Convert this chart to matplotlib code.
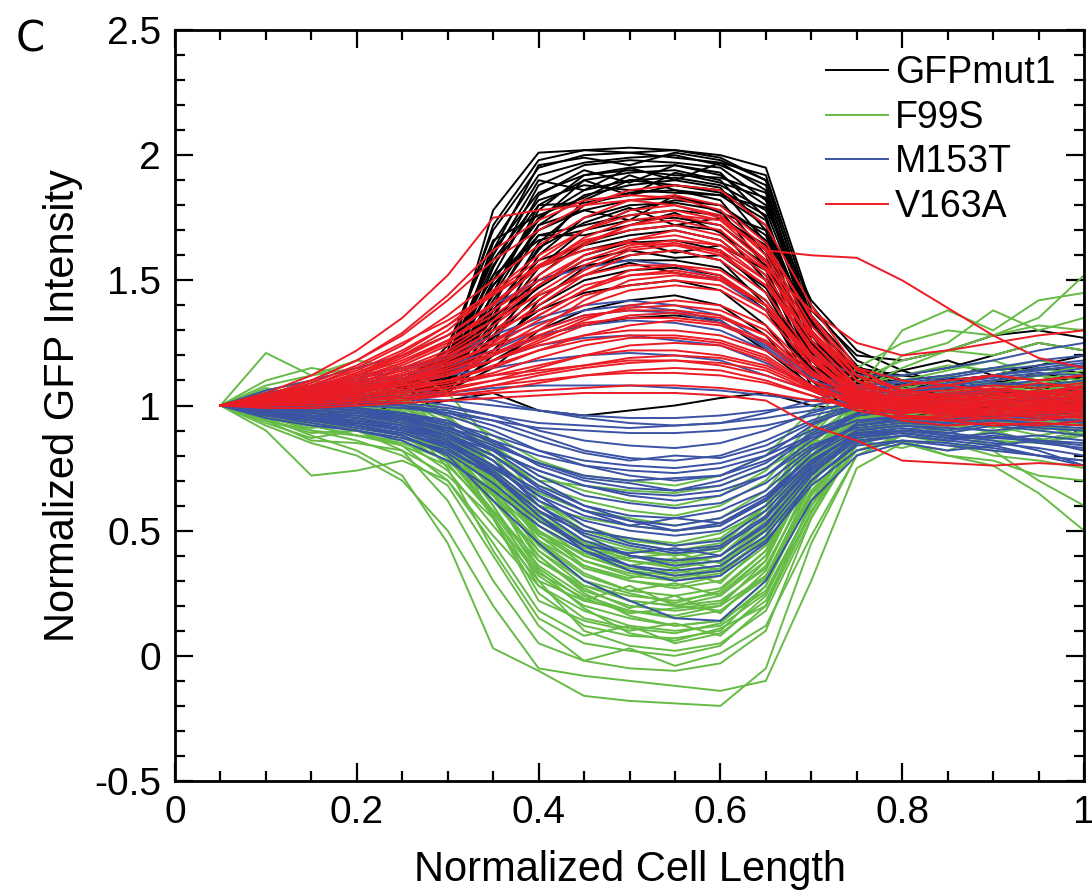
"""Normalized GFP intensity profiles along the cell length for four GFP variants."""

import matplotlib

matplotlib.use("Agg")
import matplotlib.pyplot as plt
from matplotlib.ticker import MultipleLocator

# positions along the cell (fraction of length), shared by every profile
cell_length = [0.05, 0.10, 0.15, 0.20, 0.25, 0.30, 0.35, 0.40, 0.45, 0.50,
               0.55, 0.60, 0.65, 0.70, 0.75, 0.80, 0.85, 0.90, 0.95, 1.00]

gfpmut1 = [
    [1.00, 1.02, 1.04, 1.05, 1.08, 1.15, 1.78, 2.01, 2.02, 2.03, 2.02, 2.00, 1.95, 1.40, 1.18, 1.10, 1.08, 1.05, 1.06, 1.04],
    [1.00, 1.01, 1.03, 1.06, 1.10, 1.22, 1.70, 1.95, 2.00, 2.01, 2.02, 1.99, 1.90, 1.35, 1.12, 1.05, 1.03, 1.02, 1.00, 1.01],
    [1.00, 0.99, 1.00, 1.02, 1.05, 1.12, 1.55, 1.88, 1.96, 1.98, 1.97, 1.95, 1.82, 1.30, 1.10, 1.08, 1.05, 1.09, 1.07, 1.10],
    [1.00, 1.03, 1.05, 1.04, 1.07, 1.18, 1.62, 1.85, 1.92, 1.95, 1.96, 1.93, 1.75, 1.25, 1.05, 1.00, 0.98, 1.00, 1.02, 0.99],
    [1.00, 0.98, 0.99, 1.00, 1.03, 1.10, 1.45, 1.80, 1.90, 1.93, 1.94, 1.90, 1.70, 1.20, 1.02, 0.98, 0.97, 0.99, 0.96, 0.98],
    [1.00, 1.02, 1.02, 1.03, 1.06, 1.14, 1.50, 1.75, 1.86, 1.90, 1.91, 1.88, 1.78, 1.32, 1.15, 1.12, 1.10, 1.12, 1.15, 1.13],
    [1.00, 1.01, 1.00, 0.99, 1.02, 1.08, 1.40, 1.72, 1.84, 1.88, 1.90, 1.87, 1.65, 1.18, 1.00, 0.96, 0.95, 0.97, 0.95, 0.96],
    [1.00, 1.04, 1.06, 1.08, 1.10, 1.20, 1.58, 1.82, 1.88, 1.86, 1.85, 1.84, 1.72, 1.28, 1.12, 1.08, 1.10, 1.12, 1.10, 1.11],
    [1.00, 1.00, 1.02, 1.01, 1.04, 1.12, 1.35, 1.65, 1.80, 1.85, 1.86, 1.82, 1.60, 1.15, 0.98, 0.95, 0.96, 0.94, 0.97, 0.95],
    [1.00, 1.02, 1.03, 1.05, 1.08, 1.16, 1.48, 1.70, 1.78, 1.82, 1.83, 1.80, 1.68, 1.22, 1.06, 1.03, 1.02, 1.04, 1.03, 1.05],
    [1.00, 0.99, 1.01, 1.02, 1.04, 1.10, 1.30, 1.60, 1.75, 1.80, 1.81, 1.78, 1.55, 1.12, 1.00, 0.97, 0.99, 1.00, 0.98, 1.00],
    [1.00, 1.01, 1.01, 1.03, 1.05, 1.13, 1.42, 1.68, 1.72, 1.76, 1.78, 1.76, 1.62, 1.20, 1.04, 1.02, 1.00, 1.01, 1.03, 1.02],
    [1.00, 1.03, 1.04, 1.06, 1.09, 1.18, 1.52, 1.66, 1.70, 1.74, 1.75, 1.72, 1.58, 1.25, 1.14, 1.10, 1.12, 1.15, 1.14, 1.16],
    [1.00, 1.00, 0.99, 1.00, 1.02, 1.06, 1.25, 1.52, 1.65, 1.70, 1.72, 1.70, 1.50, 1.10, 0.96, 0.93, 0.92, 0.94, 0.93, 0.95],
    [1.00, 1.02, 1.03, 1.04, 1.06, 1.12, 1.38, 1.58, 1.64, 1.68, 1.70, 1.66, 1.52, 1.16, 1.05, 1.04, 1.06, 1.05, 1.08, 1.07],
    [1.00, 1.01, 1.02, 1.02, 1.04, 1.09, 1.28, 1.48, 1.60, 1.65, 1.66, 1.62, 1.45, 1.14, 1.02, 1.00, 1.01, 0.99, 1.00, 1.02],
    [1.00, 0.98, 0.98, 0.99, 1.01, 1.05, 1.20, 1.42, 1.55, 1.60, 1.62, 1.58, 1.40, 1.08, 0.97, 0.95, 0.97, 0.96, 0.98, 0.97],
    [1.00, 1.02, 1.04, 1.05, 1.07, 1.14, 1.35, 1.50, 1.56, 1.58, 1.58, 1.55, 1.42, 1.18, 1.10, 1.12, 1.15, 1.20, 1.25, 1.22],
    [1.00, 1.01, 1.00, 1.01, 1.03, 1.08, 1.22, 1.40, 1.50, 1.54, 1.55, 1.52, 1.38, 1.12, 1.03, 1.01, 1.00, 1.03, 1.02, 1.04],
    [1.00, 1.00, 1.01, 1.03, 1.05, 1.10, 1.25, 1.38, 1.45, 1.48, 1.50, 1.46, 1.32, 1.10, 1.02, 1.00, 0.98, 1.00, 0.99, 1.00],
    [1.00, 0.99, 1.00, 1.00, 1.02, 1.06, 1.15, 1.30, 1.38, 1.42, 1.44, 1.40, 1.28, 1.06, 0.98, 0.96, 0.97, 0.99, 0.98, 0.99],
    [1.00, 1.01, 1.02, 1.03, 1.04, 1.08, 1.18, 1.28, 1.32, 1.35, 1.36, 1.34, 1.22, 1.08, 1.02, 1.05, 1.08, 1.10, 1.12, 1.10],
    [1.00, 0.98, 0.97, 0.98, 0.99, 1.02, 1.05, 0.98, 0.96, 0.98, 1.00, 1.03, 1.05, 1.00, 0.98, 0.96, 0.95, 0.97, 0.96, 0.98],
    [1.00, 1.02, 1.05, 1.08, 1.12, 1.18, 1.72, 1.98, 2.02, 2.01, 1.99, 1.97, 1.92, 1.38, 1.20, 1.18, 1.22, 1.28, 1.30, 1.27],
    [1.00, 1.01, 1.03, 1.04, 1.06, 1.12, 1.65, 1.92, 1.97, 1.99, 2.00, 1.96, 1.88, 1.30, 1.08, 1.04, 1.02, 1.05, 1.04, 1.06],
    [1.00, 1.00, 1.02, 1.03, 1.05, 1.10, 1.45, 1.78, 1.92, 1.94, 1.92, 1.91, 1.85, 1.26, 1.06, 1.02, 1.04, 1.03, 1.01, 1.03],
    [1.00, 1.02, 1.01, 1.02, 1.04, 1.09, 1.38, 1.62, 1.82, 1.90, 1.88, 1.86, 1.76, 1.24, 1.04, 1.00, 0.99, 1.01, 1.00, 0.98],
    [1.00, 0.99, 1.00, 1.01, 1.03, 1.07, 1.32, 1.55, 1.70, 1.78, 1.82, 1.80, 1.66, 1.18, 1.02, 0.99, 1.01, 1.00, 1.02, 1.01],
    [1.00, 1.03, 1.01, 1.06, 1.04, 1.16, 1.60, 1.90, 1.86, 1.95, 1.90, 1.97, 1.86, 1.33, 1.10, 1.14, 1.08, 1.12, 1.06, 1.09],
    [1.00, 0.97, 1.02, 1.00, 1.06, 1.20, 1.52, 1.84, 1.94, 1.89, 1.96, 1.92, 1.80, 1.36, 1.16, 1.06, 1.10, 1.04, 1.08, 1.02],
    [1.00, 1.05, 1.03, 1.07, 1.05, 1.24, 1.66, 1.76, 1.83, 1.92, 1.86, 1.84, 1.79, 1.42, 1.22, 1.14, 1.18, 1.12, 1.16, 1.20],
    [1.00, 1.00, 1.04, 1.02, 1.08, 1.14, 1.44, 1.72, 1.78, 1.74, 1.84, 1.77, 1.70, 1.28, 1.07, 1.01, 1.04, 0.98, 1.02, 1.00],
    [1.00, 1.02, 0.99, 1.03, 1.01, 1.11, 1.36, 1.63, 1.73, 1.79, 1.72, 1.75, 1.64, 1.21, 1.04, 0.99, 0.96, 1.00, 0.97, 1.01],
    [1.00, 0.99, 1.03, 1.05, 1.03, 1.17, 1.48, 1.68, 1.68, 1.72, 1.77, 1.69, 1.56, 1.26, 1.11, 1.07, 1.11, 1.08, 1.13, 1.10],
    [1.00, 1.04, 1.02, 1.04, 1.09, 1.13, 1.40, 1.56, 1.62, 1.66, 1.61, 1.64, 1.54, 1.19, 1.06, 1.03, 1.05, 1.09, 1.04, 1.07],
    [1.00, 1.01, 1.05, 1.03, 1.06, 1.19, 1.56, 1.80, 1.81, 1.84, 1.88, 1.85, 1.74, 1.30, 1.09, 1.05, 1.01, 1.05, 1.03, 1.06],
    [1.00, 0.98, 1.00, 1.02, 1.04, 1.11, 1.33, 1.47, 1.58, 1.62, 1.59, 1.60, 1.47, 1.16, 1.01, 0.98, 1.00, 0.97, 1.01, 0.99],
    [1.00, 1.03, 1.04, 1.01, 1.05, 1.15, 1.62, 1.96, 1.99, 1.96, 2.01, 1.98, 1.90, 1.34, 1.13, 1.09, 1.06, 1.10, 1.08, 1.12],
    [1.00, 1.01, 1.02, 1.04, 1.03, 1.09, 1.27, 1.44, 1.52, 1.57, 1.53, 1.50, 1.40, 1.13, 1.00, 0.97, 0.99, 1.02, 0.99, 1.03],
    [1.00, 1.02, 1.00, 1.03, 1.07, 1.12, 1.50, 1.74, 1.90, 1.84, 1.93, 1.89, 1.83, 1.29, 1.08, 1.03, 1.06, 1.02, 1.05, 1.04],
]

f99s = [
    [1.00, 0.95, 0.88, 0.82, 0.72, 0.45, 0.03, -0.06, -0.16, -0.18, -0.19, -0.20, -0.05, 0.45, 0.80, 0.88, 0.92, 0.95, 0.90, 0.93],
    [1.00, 0.92, 0.85, 0.80, 0.70, 0.50, 0.20, -0.05, -0.08, -0.10, -0.12, -0.14, -0.10, 0.30, 0.75, 0.85, 0.82, 0.88, 0.86, 0.90],
    [1.00, 0.98, 0.95, 0.90, 0.82, 0.62, 0.30, 0.05, -0.02, -0.05, -0.06, -0.03, 0.10, 0.55, 0.85, 0.92, 0.95, 0.98, 1.00, 0.97],
    [1.00, 1.05, 1.08, 1.02, 0.95, 0.75, 0.42, 0.15, 0.05, 0.02, 0.00, 0.04, 0.20, 0.62, 0.90, 1.00, 1.02, 1.05, 1.03, 1.06],
    [1.00, 1.10, 1.15, 1.12, 1.05, 0.88, 0.55, 0.25, 0.12, 0.08, 0.07, 0.10, 0.28, 0.70, 0.98, 1.05, 1.10, 1.08, 1.12, 1.10],
    [1.00, 1.21, 1.12, 1.15, 1.10, 0.95, 0.65, 0.35, 0.22, 0.18, 0.16, 0.20, 0.38, 0.78, 1.02, 1.08, 1.12, 1.15, 1.10, 1.14],
    [1.00, 0.90, 0.72, 0.74, 0.78, 0.70, 0.48, 0.28, 0.18, 0.12, 0.10, 0.12, 0.25, 0.60, 0.82, 0.88, 0.85, 0.80, 0.78, 0.75],
    [1.00, 0.97, 0.93, 0.96, 0.92, 0.80, 0.58, 0.38, 0.28, 0.24, 0.22, 0.25, 0.40, 0.72, 0.92, 0.98, 1.00, 0.97, 0.99, 1.01],
    [1.00, 1.03, 1.05, 1.08, 1.04, 0.92, 0.70, 0.48, 0.35, 0.30, 0.28, 0.32, 0.48, 0.82, 1.00, 1.05, 1.08, 1.06, 1.10, 1.08],
    [1.00, 0.96, 0.90, 0.88, 0.85, 0.78, 0.62, 0.42, 0.30, 0.22, 0.20, 0.22, 0.35, 0.70, 0.90, 0.95, 0.93, 0.96, 0.94, 0.97],
    [1.00, 1.02, 1.00, 0.98, 0.95, 0.88, 0.75, 0.58, 0.45, 0.38, 0.35, 0.38, 0.52, 0.80, 0.96, 1.00, 1.02, 1.00, 1.03, 1.01],
    [1.00, 1.08, 1.12, 1.18, 1.15, 1.05, 0.85, 0.62, 0.50, 0.45, 0.42, 0.45, 0.60, 0.92, 1.15, 1.25, 1.30, 1.28, 1.32, 1.30],
    [1.00, 0.99, 0.96, 0.93, 0.90, 0.82, 0.68, 0.50, 0.40, 0.35, 0.33, 0.36, 0.50, 0.78, 0.95, 0.98, 0.96, 0.99, 0.97, 0.95],
    [1.00, 1.04, 1.02, 1.05, 1.00, 0.90, 0.72, 0.52, 0.42, 0.38, 0.36, 0.40, 0.56, 0.85, 1.02, 1.08, 1.05, 1.10, 1.12, 1.08],
    [1.00, 0.94, 0.86, 0.85, 0.82, 0.72, 0.55, 0.32, 0.20, 0.15, 0.12, 0.14, 0.30, 0.65, 0.85, 0.90, 0.88, 0.86, 0.85, 0.88],
    [1.00, 1.00, 0.98, 0.95, 0.92, 0.85, 0.72, 0.60, 0.55, 0.52, 0.50, 0.52, 0.62, 0.85, 0.98, 1.02, 1.00, 1.03, 1.01, 1.04],
    [1.00, 1.06, 1.10, 1.06, 1.02, 0.95, 0.82, 0.68, 0.62, 0.58, 0.56, 0.60, 0.70, 0.90, 1.05, 1.10, 1.08, 1.12, 1.15, 1.12],
    [1.00, 0.97, 0.94, 0.92, 0.88, 0.80, 0.65, 0.45, 0.32, 0.26, 0.24, 0.27, 0.42, 0.75, 0.92, 0.96, 0.94, 0.92, 0.95, 0.93],
    [1.00, 1.02, 1.04, 1.03, 0.98, 0.86, 0.60, 0.30, 0.10, 0.04, 0.02, 0.05, 0.18, 0.55, 0.88, 0.96, 0.99, 1.02, 1.00, 1.03],
    [1.00, 0.98, 0.97, 1.00, 0.96, 0.85, 0.62, 0.40, 0.26, 0.20, 0.18, 0.20, 0.32, 0.68, 0.93, 1.00, 0.98, 1.01, 0.99, 0.98],
    [1.00, 1.05, 1.08, 1.10, 1.06, 0.98, 0.88, 0.78, 0.72, 0.70, 0.68, 0.72, 0.80, 0.98, 1.10, 1.18, 1.22, 1.20, 1.25, 1.22],
    [1.00, 0.95, 0.92, 0.94, 0.90, 0.86, 0.80, 0.70, 0.68, 0.66, 0.65, 0.68, 0.75, 0.85, 0.90, 0.85, 0.80, 0.78, 0.72, 0.70],
    [1.00, 1.01, 1.02, 1.00, 0.97, 0.90, 0.78, 0.65, 0.58, 0.55, 0.52, 0.55, 0.66, 0.88, 1.00, 1.02, 1.05, 1.03, 1.06, 1.04],
    [1.00, 1.03, 1.06, 1.05, 1.02, 0.93, 0.75, 0.55, 0.44, 0.40, 0.38, 0.42, 0.58, 0.88, 1.06, 1.15, 1.22, 1.28, 1.35, 1.52],
    [1.00, 0.98, 0.95, 0.96, 0.94, 0.88, 0.76, 0.62, 0.52, 0.46, 0.44, 0.47, 0.60, 0.82, 0.94, 0.97, 0.99, 0.96, 0.98, 1.00],
    [1.00, 1.00, 1.02, 1.04, 1.00, 0.90, 0.68, 0.42, 0.28, 0.22, 0.20, 0.24, 0.40, 0.78, 1.05, 1.20, 1.25, 1.38, 1.30, 1.35],
    [1.00, 0.96, 0.93, 0.91, 0.88, 0.80, 0.64, 0.46, 0.36, 0.30, 0.27, 0.30, 0.44, 0.70, 0.88, 0.90, 0.85, 0.82, 0.70, 0.60],
    [1.00, 1.02, 1.00, 1.02, 0.98, 0.88, 0.70, 0.50, 0.38, 0.32, 0.30, 0.33, 0.48, 0.80, 0.98, 1.04, 1.07, 1.05, 1.08, 1.06],
    [1.00, 0.99, 0.97, 0.95, 0.93, 0.87, 0.74, 0.56, 0.46, 0.42, 0.40, 0.43, 0.55, 0.80, 0.95, 0.96, 0.98, 0.95, 0.93, 0.95],
    [1.00, 1.04, 1.07, 1.09, 1.05, 0.96, 0.80, 0.60, 0.48, 0.43, 0.40, 0.44, 0.60, 0.90, 1.08, 1.12, 1.16, 1.14, 1.18, 1.15],
    [1.00, 0.97, 0.92, 0.88, 0.84, 0.76, 0.58, 0.36, 0.24, 0.18, 0.15, 0.18, 0.32, 0.62, 0.82, 0.86, 0.80, 0.76, 0.65, 0.50],
    [1.00, 1.01, 0.99, 0.97, 0.94, 0.86, 0.70, 0.52, 0.40, 0.34, 0.32, 0.35, 0.50, 0.76, 0.92, 0.95, 0.97, 0.99, 0.96, 0.98],
    [1.00, 1.06, 1.04, 1.07, 1.03, 0.95, 0.84, 0.72, 0.66, 0.62, 0.60, 0.64, 0.74, 0.92, 1.05, 1.30, 1.38, 1.30, 1.42, 1.45],
    [1.00, 0.94, 0.89, 0.90, 0.87, 0.80, 0.66, 0.48, 0.38, 0.33, 0.31, 0.34, 0.47, 0.74, 0.90, 0.93, 0.91, 0.94, 0.92, 0.90],
    [1.00, 1.00, 1.01, 0.99, 0.96, 0.88, 0.72, 0.54, 0.45, 0.40, 0.37, 0.40, 0.54, 0.80, 0.98, 1.02, 1.00, 1.04, 1.02, 1.05],
    [1.00, 0.98, 0.96, 0.97, 0.93, 0.84, 0.64, 0.40, 0.25, 0.16, 0.12, 0.14, 0.26, 0.60, 0.86, 0.94, 0.96, 0.94, 0.97, 0.96],
    [1.00, 0.93, 0.87, 0.90, 0.84, 0.70, 0.45, 0.18, 0.08, 0.12, 0.05, 0.09, 0.22, 0.58, 0.84, 0.90, 0.93, 0.89, 0.92, 0.88],
    [1.00, 1.04, 0.98, 1.03, 0.97, 0.86, 0.66, 0.38, 0.27, 0.19, 0.24, 0.17, 0.34, 0.72, 0.95, 1.01, 0.97, 1.03, 1.00, 1.06],
    [1.00, 0.99, 1.04, 1.00, 0.94, 0.82, 0.55, 0.22, 0.14, 0.10, 0.13, 0.08, 0.24, 0.60, 0.90, 1.06, 1.12, 1.08, 1.04, 1.10],
    [1.00, 0.96, 0.92, 0.88, 0.86, 0.74, 0.52, 0.30, 0.22, 0.28, 0.20, 0.18, 0.31, 0.66, 0.86, 0.83, 0.88, 0.84, 0.87, 0.82],
    [1.00, 1.07, 1.03, 1.06, 1.01, 0.91, 0.74, 0.50, 0.36, 0.31, 0.35, 0.29, 0.46, 0.84, 1.03, 1.10, 1.14, 1.18, 1.12, 1.16],
    [1.00, 0.97, 0.95, 0.98, 0.92, 0.83, 0.60, 0.34, 0.19, 0.09, 0.06, 0.11, 0.20, 0.57, 0.88, 0.94, 0.90, 0.93, 0.91, 0.94],
    [1.00, 1.02, 1.06, 1.02, 0.99, 0.90, 0.71, 0.46, 0.33, 0.26, 0.29, 0.24, 0.38, 0.74, 0.96, 1.02, 1.06, 1.02, 1.07, 1.03],
    [1.00, 0.94, 0.90, 0.86, 0.80, 0.68, 0.40, 0.12, -0.02, 0.03, -0.04, 0.01, 0.12, 0.48, 0.80, 0.88, 0.86, 0.90, 0.85, 0.89],
    [1.00, 1.01, 0.97, 0.99, 0.95, 0.87, 0.69, 0.49, 0.41, 0.36, 0.39, 0.34, 0.47, 0.77, 0.93, 0.99, 0.95, 0.98, 1.02, 0.97],
    [1.00, 1.03, 1.01, 1.04, 1.00, 0.89, 0.67, 0.44, 0.30, 0.25, 0.21, 0.26, 0.42, 0.79, 1.01, 1.07, 1.03, 1.09, 1.05, 1.11],
    [1.00, 0.98, 0.94, 0.91, 0.89, 0.82, 0.70, 0.57, 0.50, 0.47, 0.45, 0.49, 0.58, 0.78, 0.91, 0.93, 0.89, 0.92, 0.88, 0.91],
    [1.00, 1.00, 0.96, 0.94, 0.90, 0.79, 0.57, 0.33, 0.23, 0.17, 0.19, 0.21, 0.36, 0.69, 0.89, 0.97, 1.00, 0.96, 0.99, 0.95],
    [1.00, 1.05, 1.02, 1.00, 0.97, 0.88, 0.73, 0.54, 0.43, 0.39, 0.41, 0.37, 0.51, 0.82, 0.99, 1.04, 1.08, 1.05, 1.09, 1.07],
    [1.00, 0.95, 0.91, 0.93, 0.88, 0.77, 0.56, 0.28, 0.15, 0.11, 0.09, 0.13, 0.28, 0.64, 0.87, 0.92, 0.95, 0.91, 0.96, 0.92],
]

m153t = [
    [1.00, 0.98, 0.95, 0.92, 0.88, 0.80, 0.62, 0.45, 0.30, 0.22, 0.15, 0.14, 0.30, 0.62, 0.80, 0.85, 0.82, 0.84, 0.80, 0.78],
    [1.00, 0.99, 0.97, 0.95, 0.92, 0.86, 0.72, 0.56, 0.42, 0.34, 0.30, 0.32, 0.45, 0.70, 0.85, 0.88, 0.86, 0.88, 0.85, 0.83],
    [1.00, 1.00, 0.98, 0.97, 0.94, 0.88, 0.78, 0.64, 0.52, 0.45, 0.42, 0.44, 0.56, 0.76, 0.90, 0.92, 0.90, 0.93, 0.91, 0.90],
    [1.00, 1.02, 1.01, 0.99, 0.96, 0.92, 0.82, 0.70, 0.60, 0.54, 0.50, 0.52, 0.62, 0.80, 0.92, 0.95, 0.94, 0.96, 0.95, 0.94],
    [1.00, 0.97, 0.94, 0.93, 0.90, 0.85, 0.76, 0.62, 0.54, 0.50, 0.48, 0.50, 0.60, 0.78, 0.88, 0.90, 0.88, 0.87, 0.86, 0.85],
    [1.00, 1.01, 1.00, 0.98, 0.96, 0.90, 0.82, 0.74, 0.68, 0.64, 0.62, 0.64, 0.72, 0.86, 0.96, 0.98, 0.97, 0.99, 0.98, 0.97],
    [1.00, 1.03, 1.04, 1.02, 1.00, 0.96, 0.90, 0.82, 0.76, 0.72, 0.70, 0.72, 0.80, 0.92, 1.00, 1.02, 1.01, 1.03, 1.02, 1.04],
    [1.00, 0.99, 0.98, 0.97, 0.95, 0.91, 0.86, 0.80, 0.76, 0.74, 0.73, 0.75, 0.80, 0.88, 0.94, 0.95, 0.94, 0.96, 0.95, 0.93],
    [1.00, 1.02, 1.04, 1.05, 1.03, 1.00, 0.96, 0.90, 0.86, 0.84, 0.83, 0.85, 0.90, 0.97, 1.02, 1.04, 1.05, 1.06, 1.05, 1.07],
    [1.00, 1.00, 1.01, 1.00, 0.99, 0.97, 0.94, 0.91, 0.90, 0.89, 0.89, 0.90, 0.92, 0.96, 1.00, 1.01, 1.02, 1.03, 1.02, 1.03],
    [1.00, 1.04, 1.06, 1.08, 1.10, 1.12, 1.15, 1.18, 1.20, 1.21, 1.20, 1.18, 1.12, 1.06, 1.05, 1.06, 1.08, 1.10, 1.12, 1.15],
    [1.00, 1.05, 1.08, 1.12, 1.15, 1.20, 1.28, 1.35, 1.40, 1.42, 1.40, 1.36, 1.25, 1.12, 1.08, 1.10, 1.12, 1.15, 1.18, 1.20],
    [1.00, 1.06, 1.10, 1.15, 1.20, 1.28, 1.40, 1.50, 1.55, 1.58, 1.56, 1.50, 1.38, 1.20, 1.12, 1.12, 1.15, 1.18, 1.22, 1.25],
    [1.00, 1.03, 1.05, 1.06, 1.08, 1.12, 1.20, 1.28, 1.32, 1.34, 1.33, 1.30, 1.22, 1.10, 1.05, 1.06, 1.07, 1.09, 1.08, 1.10],
    [1.00, 1.02, 1.03, 1.03, 1.04, 1.05, 1.07, 1.08, 1.08, 1.08, 1.07, 1.06, 1.04, 1.02, 1.01, 1.03, 1.04, 1.05, 1.04, 1.06],
    [1.00, 0.96, 0.93, 0.90, 0.86, 0.78, 0.66, 0.52, 0.42, 0.36, 0.34, 0.36, 0.48, 0.70, 0.84, 0.86, 0.84, 0.82, 0.80, 0.78],
    [1.00, 0.98, 0.96, 0.94, 0.91, 0.86, 0.76, 0.66, 0.58, 0.54, 0.52, 0.55, 0.64, 0.80, 0.90, 0.92, 0.91, 0.90, 0.92, 0.91],
    [1.00, 0.97, 0.95, 0.94, 0.92, 0.88, 0.82, 0.74, 0.68, 0.65, 0.64, 0.66, 0.72, 0.84, 0.91, 0.93, 0.92, 0.94, 0.93, 0.92],
    [1.00, 1.01, 1.02, 1.01, 1.00, 0.98, 0.94, 0.88, 0.82, 0.79, 0.78, 0.80, 0.86, 0.94, 1.00, 1.02, 1.00, 1.01, 1.03, 1.02],
    [1.00, 0.99, 0.97, 0.96, 0.93, 0.88, 0.80, 0.68, 0.60, 0.56, 0.55, 0.58, 0.66, 0.82, 0.92, 0.94, 0.93, 0.95, 0.94, 0.96],
    [1.00, 0.95, 0.92, 0.90, 0.87, 0.82, 0.72, 0.58, 0.46, 0.40, 0.38, 0.40, 0.52, 0.74, 0.87, 0.89, 0.87, 0.85, 0.83, 0.80],
    [1.00, 1.02, 1.03, 1.04, 1.03, 1.02, 1.00, 0.98, 0.96, 0.95, 0.95, 0.96, 0.98, 1.00, 1.03, 1.05, 1.07, 1.08, 1.10, 1.12],
    [1.00, 1.04, 1.07, 1.10, 1.12, 1.16, 1.22, 1.30, 1.36, 1.38, 1.37, 1.33, 1.24, 1.12, 1.08, 1.09, 1.11, 1.14, 1.16, 1.18],
    [1.00, 0.98, 0.96, 0.95, 0.92, 0.87, 0.78, 0.60, 0.48, 0.40, 0.36, 0.38, 0.50, 0.72, 0.88, 0.90, 0.88, 0.86, 0.82, 0.76],
    [1.00, 1.00, 0.99, 0.98, 0.96, 0.93, 0.88, 0.82, 0.78, 0.76, 0.75, 0.77, 0.82, 0.90, 0.96, 0.98, 0.97, 0.99, 0.98, 1.00],
    [1.00, 1.01, 1.00, 0.99, 0.97, 0.94, 0.86, 0.76, 0.70, 0.67, 0.66, 0.68, 0.75, 0.88, 0.96, 0.98, 0.99, 1.00, 0.99, 1.01],
    [1.00, 0.97, 0.94, 0.92, 0.89, 0.83, 0.72, 0.56, 0.44, 0.36, 0.32, 0.34, 0.46, 0.68, 0.82, 0.86, 0.85, 0.83, 0.80, 0.76],
    [1.00, 1.03, 1.05, 1.07, 1.06, 1.05, 1.02, 0.98, 0.95, 0.93, 0.92, 0.93, 0.97, 1.02, 1.06, 1.08, 1.10, 1.12, 1.14, 1.16],
    [1.00, 0.98, 0.96, 0.93, 0.91, 0.84, 0.74, 0.60, 0.50, 0.47, 0.44, 0.46, 0.58, 0.77, 0.89, 0.91, 0.89, 0.92, 0.90, 0.88],
    [1.00, 1.01, 0.99, 0.98, 0.95, 0.89, 0.80, 0.67, 0.58, 0.52, 0.55, 0.53, 0.63, 0.80, 0.93, 0.96, 0.94, 0.97, 0.95, 0.98],
    [1.00, 0.99, 1.01, 0.99, 0.97, 0.93, 0.85, 0.77, 0.71, 0.69, 0.66, 0.70, 0.77, 0.89, 0.97, 0.99, 1.01, 0.98, 1.00, 0.99],
    [1.00, 0.97, 0.94, 0.91, 0.88, 0.81, 0.69, 0.54, 0.44, 0.41, 0.43, 0.40, 0.53, 0.73, 0.86, 0.88, 0.86, 0.84, 0.86, 0.82],
    [1.00, 1.02, 1.03, 1.01, 1.00, 0.97, 0.92, 0.86, 0.81, 0.78, 0.80, 0.79, 0.84, 0.93, 0.99, 1.01, 1.03, 1.01, 1.04, 1.02],
    [1.00, 1.03, 1.06, 1.09, 1.11, 1.14, 1.18, 1.24, 1.27, 1.28, 1.26, 1.24, 1.17, 1.08, 1.04, 1.06, 1.09, 1.11, 1.13, 1.12],
    [1.00, 0.99, 0.97, 0.96, 0.94, 0.90, 0.83, 0.72, 0.64, 0.61, 0.59, 0.61, 0.69, 0.83, 0.92, 0.94, 0.93, 0.95, 0.92, 0.94],
    [1.00, 0.96, 0.94, 0.92, 0.89, 0.84, 0.75, 0.64, 0.56, 0.52, 0.50, 0.53, 0.62, 0.78, 0.89, 0.90, 0.89, 0.87, 0.88, 0.86],
    [1.00, 1.01, 1.02, 1.02, 1.01, 0.99, 0.96, 0.93, 0.92, 0.91, 0.92, 0.93, 0.95, 0.98, 1.01, 1.03, 1.04, 1.06, 1.05, 1.08],
    [1.00, 0.98, 0.95, 0.93, 0.90, 0.85, 0.73, 0.58, 0.49, 0.44, 0.41, 0.43, 0.55, 0.75, 0.88, 0.89, 0.87, 0.89, 0.86, 0.84],
    [1.00, 1.04, 1.07, 1.11, 1.14, 1.19, 1.26, 1.33, 1.38, 1.40, 1.38, 1.34, 1.23, 1.11, 1.07, 1.08, 1.10, 1.12, 1.15, 1.17],
    [1.00, 1.00, 0.98, 0.97, 0.95, 0.91, 0.84, 0.77, 0.72, 0.70, 0.71, 0.72, 0.78, 0.87, 0.94, 0.96, 0.95, 0.97, 0.96, 0.99],
]

v163a = [
    [1.00, 1.05, 1.12, 1.22, 1.35, 1.52, 1.75, 1.78, 1.80, 1.82, 1.80, 1.75, 1.62, 1.60, 1.59, 1.50, 1.39, 1.28, 1.19, 1.15],
    [1.00, 1.04, 1.10, 1.18, 1.28, 1.42, 1.58, 1.70, 1.80, 1.86, 1.88, 1.86, 1.72, 1.40, 1.15, 1.05, 1.02, 1.04, 1.03, 1.05],
    [1.00, 1.03, 1.08, 1.15, 1.24, 1.36, 1.50, 1.64, 1.75, 1.82, 1.84, 1.80, 1.65, 1.35, 1.12, 1.02, 0.99, 1.00, 0.98, 1.00],
    [1.00, 1.02, 1.06, 1.12, 1.20, 1.30, 1.45, 1.58, 1.70, 1.78, 1.80, 1.76, 1.60, 1.30, 1.10, 1.00, 0.98, 0.97, 0.99, 0.98],
    [1.00, 1.03, 1.07, 1.13, 1.20, 1.28, 1.40, 1.55, 1.65, 1.72, 1.74, 1.70, 1.55, 1.26, 1.08, 1.02, 1.00, 1.02, 1.01, 1.03],
    [1.00, 1.02, 1.05, 1.09, 1.15, 1.22, 1.34, 1.48, 1.60, 1.66, 1.68, 1.64, 1.50, 1.24, 1.06, 0.99, 0.97, 0.96, 0.98, 0.97],
    [1.00, 1.04, 1.09, 1.16, 1.25, 1.34, 1.45, 1.55, 1.62, 1.65, 1.64, 1.60, 1.48, 1.28, 1.15, 1.10, 1.08, 1.12, 1.10, 1.12],
    [1.00, 1.02, 1.04, 1.08, 1.12, 1.18, 1.28, 1.40, 1.52, 1.60, 1.62, 1.58, 1.45, 1.20, 1.04, 0.98, 0.96, 0.95, 0.97, 0.96],
    [1.00, 1.01, 1.03, 1.06, 1.10, 1.16, 1.25, 1.36, 1.46, 1.54, 1.56, 1.54, 1.42, 1.18, 1.03, 0.98, 0.99, 1.00, 0.98, 0.99],
    [1.00, 1.03, 1.06, 1.10, 1.16, 1.24, 1.34, 1.44, 1.52, 1.56, 1.56, 1.52, 1.40, 1.20, 1.08, 1.05, 1.06, 1.08, 1.07, 1.09],
    [1.00, 1.02, 1.04, 1.07, 1.10, 1.15, 1.22, 1.32, 1.40, 1.46, 1.48, 1.46, 1.36, 1.16, 1.02, 0.96, 0.94, 0.95, 0.94, 0.96],
    [1.00, 1.01, 1.03, 1.05, 1.08, 1.12, 1.18, 1.26, 1.34, 1.40, 1.42, 1.40, 1.32, 1.14, 1.02, 0.98, 1.00, 1.01, 1.00, 1.02],
    [1.00, 1.02, 1.05, 1.08, 1.12, 1.17, 1.24, 1.30, 1.36, 1.38, 1.38, 1.36, 1.28, 1.12, 1.04, 1.02, 1.03, 1.05, 1.04, 1.06],
    [1.00, 1.01, 1.02, 1.04, 1.06, 1.10, 1.15, 1.22, 1.28, 1.32, 1.34, 1.32, 1.25, 1.10, 1.00, 0.96, 0.95, 0.97, 0.96, 0.95],
    [1.00, 1.02, 1.04, 1.06, 1.09, 1.13, 1.18, 1.24, 1.28, 1.30, 1.30, 1.28, 1.22, 1.10, 1.03, 1.01, 1.02, 1.03, 1.02, 1.04],
    [1.00, 1.00, 1.01, 1.02, 1.04, 1.06, 1.10, 1.15, 1.20, 1.24, 1.25, 1.24, 1.18, 1.06, 0.98, 0.95, 0.96, 0.97, 0.95, 0.96],
    [1.00, 1.01, 1.02, 1.03, 1.05, 1.08, 1.12, 1.16, 1.20, 1.22, 1.22, 1.20, 1.16, 1.08, 1.02, 1.00, 1.01, 1.00, 1.02, 1.01],
    [1.00, 1.00, 1.00, 1.01, 1.02, 1.04, 1.06, 1.09, 1.12, 1.14, 1.15, 1.14, 1.10, 1.04, 0.99, 0.97, 0.98, 0.99, 0.98, 0.99],
    [1.00, 1.01, 1.01, 1.02, 1.03, 1.04, 1.05, 1.06, 1.07, 1.08, 1.08, 1.07, 1.05, 1.02, 1.00, 0.99, 1.00, 1.01, 1.00, 1.00],
    [1.00, 0.99, 0.99, 1.00, 1.01, 1.02, 1.03, 1.04, 1.05, 1.05, 1.05, 1.04, 1.02, 0.92, 0.86, 0.78, 0.77, 0.76, 0.77, 0.76],
    [1.00, 1.03, 1.07, 1.12, 1.18, 1.26, 1.36, 1.48, 1.58, 1.64, 1.66, 1.64, 1.55, 1.38, 1.25, 1.20, 1.22, 1.25, 1.28, 1.30],
    [1.00, 1.02, 1.05, 1.10, 1.17, 1.26, 1.38, 1.52, 1.64, 1.72, 1.76, 1.74, 1.62, 1.32, 1.12, 1.06, 1.04, 1.06, 1.05, 1.07],
    [1.00, 1.01, 1.03, 1.05, 1.08, 1.12, 1.20, 1.30, 1.42, 1.50, 1.52, 1.50, 1.40, 1.16, 1.00, 0.94, 0.92, 0.93, 0.92, 0.94],
    [1.00, 1.02, 1.04, 1.07, 1.11, 1.16, 1.24, 1.34, 1.44, 1.48, 1.50, 1.48, 1.38, 1.18, 1.06, 1.02, 1.04, 1.03, 1.05, 1.04],
    [1.00, 1.01, 1.02, 1.04, 1.07, 1.10, 1.16, 1.22, 1.26, 1.28, 1.28, 1.26, 1.20, 1.08, 1.01, 0.98, 0.97, 0.98, 0.97, 0.98],
    [1.00, 1.03, 1.07, 1.13, 1.21, 1.32, 1.46, 1.60, 1.70, 1.76, 1.78, 1.74, 1.58, 1.28, 1.10, 1.04, 1.02, 1.04, 1.06, 1.05],
    [1.00, 1.02, 1.05, 1.09, 1.14, 1.20, 1.30, 1.42, 1.54, 1.62, 1.64, 1.62, 1.50, 1.22, 1.05, 1.00, 1.01, 1.00, 1.02, 1.01],
    [1.00, 1.01, 1.03, 1.05, 1.08, 1.12, 1.18, 1.25, 1.32, 1.36, 1.37, 1.35, 1.28, 1.12, 1.04, 1.00, 0.98, 1.00, 0.99, 1.01],
    [1.00, 1.00, 1.01, 1.02, 1.03, 1.05, 1.08, 1.12, 1.15, 1.17, 1.18, 1.17, 1.14, 1.06, 1.01, 0.99, 1.00, 1.02, 1.01, 1.03],
    [1.00, 1.02, 1.04, 1.06, 1.08, 1.10, 1.12, 1.14, 1.16, 1.18, 1.18, 1.16, 1.12, 1.06, 1.03, 1.08, 1.10, 1.12, 1.10, 1.12],
    [1.00, 1.03, 1.06, 1.11, 1.17, 1.25, 1.38, 1.50, 1.60, 1.66, 1.70, 1.66, 1.52, 1.26, 1.07, 1.01, 1.03, 1.01, 1.04, 1.02],
    [1.00, 1.02, 1.04, 1.08, 1.13, 1.19, 1.30, 1.38, 1.48, 1.52, 1.53, 1.50, 1.40, 1.19, 1.05, 1.00, 0.97, 0.99, 0.97, 0.99],
    [1.00, 1.04, 1.08, 1.14, 1.22, 1.32, 1.44, 1.56, 1.66, 1.70, 1.72, 1.68, 1.54, 1.30, 1.12, 1.06, 1.08, 1.06, 1.09, 1.07],
    [1.00, 1.01, 1.03, 1.06, 1.09, 1.14, 1.21, 1.28, 1.35, 1.39, 1.40, 1.38, 1.30, 1.13, 1.03, 0.99, 1.00, 0.98, 1.00, 0.99],
    [1.00, 1.02, 1.05, 1.09, 1.14, 1.21, 1.32, 1.45, 1.56, 1.63, 1.65, 1.61, 1.48, 1.23, 1.06, 1.01, 0.99, 1.01, 1.00, 1.02],
    [1.00, 1.01, 1.02, 1.04, 1.06, 1.09, 1.13, 1.19, 1.24, 1.27, 1.27, 1.25, 1.19, 1.07, 1.00, 0.97, 0.98, 0.96, 0.98, 0.97],
    [1.00, 1.02, 1.04, 1.07, 1.10, 1.14, 1.20, 1.27, 1.33, 1.35, 1.35, 1.33, 1.26, 1.12, 1.05, 1.03, 1.05, 1.07, 1.05, 1.08],
    [1.00, 1.03, 1.07, 1.12, 1.19, 1.28, 1.41, 1.55, 1.67, 1.74, 1.76, 1.72, 1.57, 1.29, 1.10, 1.03, 1.01, 1.03, 1.02, 1.04],
    [1.00, 1.01, 1.02, 1.03, 1.05, 1.07, 1.10, 1.13, 1.16, 1.19, 1.20, 1.19, 1.15, 1.07, 1.02, 1.00, 0.99, 1.00, 0.99, 1.00],
    [1.00, 1.02, 1.05, 1.08, 1.12, 1.18, 1.26, 1.36, 1.46, 1.52, 1.54, 1.51, 1.40, 1.18, 1.04, 0.99, 1.00, 1.02, 1.01, 1.00],
    [1.00, 1.00, 1.01, 1.02, 1.03, 1.05, 1.08, 1.10, 1.12, 1.13, 1.13, 1.12, 1.09, 1.04, 0.98, 0.95, 0.94, 0.92, 0.93, 0.92],
    [1.00, 1.04, 1.10, 1.18, 1.29, 1.44, 1.62, 1.74, 1.82, 1.84, 1.83, 1.78, 1.63, 1.36, 1.14, 1.06, 1.03, 1.05, 1.04, 1.06],
]

variant_names = ["GFPmut1", "F99S", "M153T", "V163A"]
variant_profiles = [gfpmut1, f99s, m153t, v163a]
variant_colors = ["#000000", "#66bb46", "#3a53a4", "#ec1c24"]


def main() -> None:
    plt.rcParams["font.family"] = ["Liberation Sans", "DejaVu Sans"]
    plt.rcParams["axes.unicode_minus"] = False

    fig = plt.figure(figsize=(10.92, 8.92), dpi=100)
    ax = fig.add_axes([175 / 1092, 1 - 781 / 892, 909 / 1092, 751 / 892])

    for name, profiles, color in zip(variant_names, variant_profiles, variant_colors):
        for i, profile in enumerate(profiles):
            ax.plot(cell_length, profile, color=color, lw=1.4,
                    label=name if i == 0 else None)

    ax.set_xlim(0, 1)
    ax.set_ylim(-0.5, 2.5)
    ax.xaxis.set_minor_locator(MultipleLocator(0.05))
    ax.yaxis.set_minor_locator(MultipleLocator(0.1))
    ax.set_xticks([0, 0.2, 0.4, 0.6, 0.8, 1.0], ["0", "0.2", "0.4", "0.6", "0.8", "1"])
    ax.set_yticks([-0.5, 0, 0.5, 1, 1.5, 2, 2.5],
                  ["-0.5", "0", "0.5", "1", "1.5", "2", "2.5"])
    ax.tick_params(which="both", direction="in", top=True, right=True, width=1.6,
                   labelsize=28)
    ax.tick_params(which="major", length=13, pad=10)
    ax.tick_params(which="minor", length=7)
    for spine in ax.spines.values():
        spine.set_linewidth(2.0)

    ax.set_xlabel("Normalized Cell Length", fontsize=30, labelpad=14)
    ax.set_ylabel("Normalized GFP Intensity", fontsize=30, labelpad=8)

    ax.legend(loc="upper left", bbox_to_anchor=(826 / 1092, 1 - 55 / 892),
              bbox_transform=fig.transFigure, frameon=False, fontsize=27,
              handlelength=1.65, handletextpad=0.19, labelspacing=0.23,
              borderpad=0, borderaxespad=0)

    # panel letter
    fig.text(16 / 1092, 1 - 51 / 892, "C", fontsize=30, va="baseline",
             family=["Liberation Sans Narrow", "DejaVu Sans"])

    fig.savefig("out.png", dpi=100)
    plt.close(fig)


if __name__ == "__main__":
    main()
